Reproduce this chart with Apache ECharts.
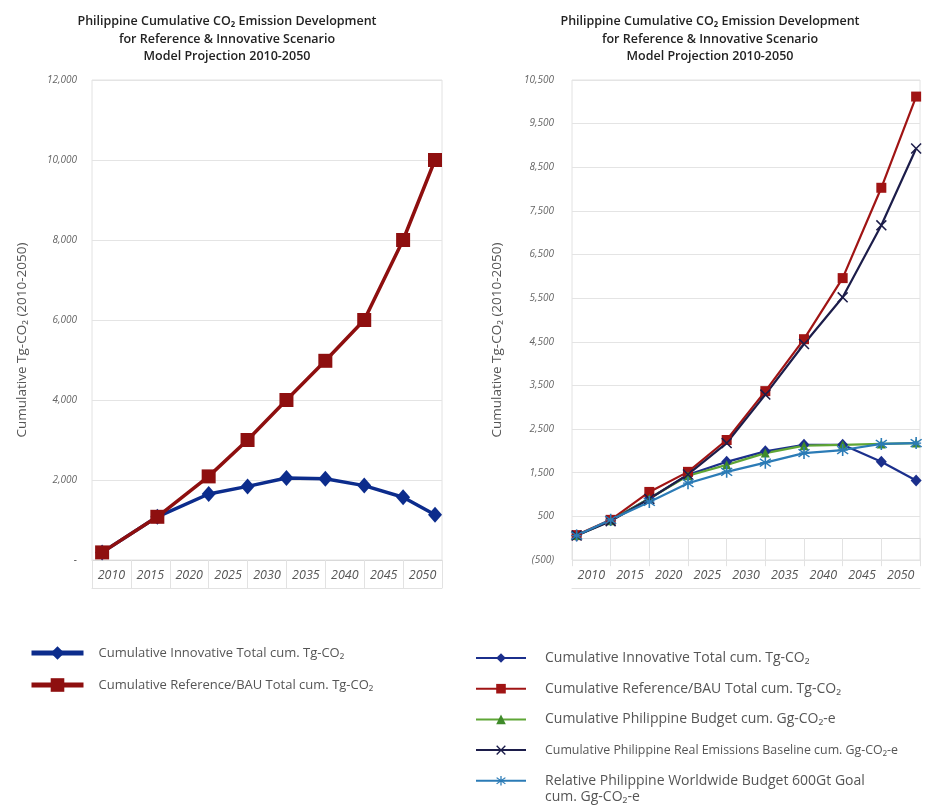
<!DOCTYPE html>
<html>
<head>
<meta charset="utf-8">
<script src="https://cdn.jsdelivr.net/npm/echarts@6/dist/echarts.min.js"></script>
<style>
  html, body { margin: 0; padding: 0; background: #fff; }
  #wrap { position: relative; width: 928px; height: 809px; }
  #left, #right { position: absolute; top: 0; width: 464px; height: 809px; }
  #left { left: 0; }
  #right { left: 464px; }
</style>
</head>
<body>
<div id="wrap"><div id="left"></div><div id="right"></div></div>
<script>
// Year labels shown in the table under each plot
const yearLabels = ['2010', '2015', '2020', '2025', '2030', '2035', '2040', '2045', '2050'];

// Left chart: model projection (cumulative Tg-CO2)
const yearsLeft = [2008.8, 2015.9, 2022.5, 2027.5, 2032.5, 2037.5, 2042.5, 2047.5, 2051.6];
const innovativeLeft = [190, 1080, 1650, 1840, 2050, 2030, 1860, 1570, 1130];
const referenceLeft = [190, 1080, 2090, 3000, 4000, 4980, 6000, 8000, 10000];

// Right chart: projection compared with budgets and baseline
const yearsRight = [2008.1, 2012.5, 2017.5, 2022.5, 2027.5, 2032.5, 2037.5, 2042.5, 2047.5, 2052.0];
const innovativeRight = [60, 410, 910, 1450, 1750, 1990, 2140, 2140, 1750, 1320];
const referenceRight = [70, 420, 1060, 1520, 2250, 3370, 4560, 5960, 8030, 10120];
const budgetRight = [60, 400, 910, 1430, 1680, 1950, 2120, 2140, 2160, 2180];
const baselineRight = [60, 390, 900, 1460, 2180, 3290, 4450, 5520, 7170, 8930];
const worldBudgetRight = [60, 420, 830, 1260, 1520, 1730, 1950, 2020, 2160, 2180];

const NAME_INNOV = 'Cumulative Innovative Total cum. Tg-CO\u2082';
const NAME_REF = 'Cumulative Reference/BAU Total cum. Tg-CO\u2082';
const NAME_BUDGET = 'Cumulative Philippine Budget cum. Gg-CO\u2082-e';
const NAME_BASE = 'Cumulative Philippine Real Emissions Baseline cum. Gg-CO\u2082-e';
const NAME_WORLD = 'Relative Philippine Worldwide Budget 600Gt Goal cum. Gg-CO\u2082-e';

const TITLE = 'Philippine Cumulative CO\u2082 Emission Development\nfor Reference & Innovative Scenario\nModel Projection 2010-2050';
const AXIS_NAME = 'Cumulative Tg-CO\u2082 (2010-2050)';
const FONT = '"Open Sans", "Noto Sans", sans-serif';

function pairs(xs, ys) { return xs.map((x, i) => [x, ys[i]]); }

function fmtValue(v) {
  if (v === 0) return '-';
  const s = Math.abs(v).toLocaleString('en-US');
  return v < 0 ? '(' + s + ')' : s;
}

// Marker outlines built from thin bars (cross and asterisk)
function barPoly(angleDeg, halfLen, halfW) {
  const a = angleDeg * Math.PI / 180, c = Math.cos(a), s = Math.sin(a);
  const pts = [[-halfLen, -halfW], [halfLen, -halfW], [halfLen, halfW], [-halfLen, halfW]]
    .map(p => [(p[0] * c - p[1] * s).toFixed(2), (p[0] * s + p[1] * c).toFixed(2)]);
  return 'M' + pts.map(p => p.join(',')).join('L') + 'Z';
}
const crossSymbol = 'path://' + barPoly(45, 10, 1.1) + barPoly(-45, 10, 1.1);
const starSymbol = 'path://' + barPoly(90, 10, 1.1) + barPoly(40, 10, 1.1) + barPoly(-40, 10, 1.1) + barPoly(0, 7, 1.1);

function xAxes() {
  return [
    {
      type: 'category', data: yearLabels, boundaryGap: true, position: 'bottom',
      axisLine: { show: true, lineStyle: { color: '#d9d9d9', width: 1 } },
      axisTick: { show: true, interval: 0, length: 28, lineStyle: { color: '#e2e2e2' } },
      axisLabel: { interval: 0, margin: 9, color: '#555', fontSize: 12.5, fontStyle: 'italic', fontFamily: FONT },
      splitLine: { show: false }
    },
    {
      type: 'value', min: 2007.5, max: 2052.5, show: false
    },
    {
      type: 'category', data: yearLabels, position: 'bottom', offset: 28,
      axisLine: { show: true, lineStyle: { color: '#e2e2e2', width: 1 } },
      axisTick: { show: false }, axisLabel: { show: false }
    }
  ];
}

function yAxis(min, max, interval, margin, nameGap) {
  return {
    type: 'value', min: min, max: max, interval: interval,
    name: AXIS_NAME, nameLocation: 'middle', nameGap: nameGap,
    nameTextStyle: { color: '#555', fontSize: 13.5, fontFamily: FONT, padding: [0, 40, 0, 0] },
    axisLine: { show: false }, axisTick: { show: false },
    axisLabel: { color: '#666', fontSize: 10, fontStyle: 'italic', fontFamily: FONT, margin: margin, formatter: fmtValue },
    splitLine: { show: true, lineStyle: { color: '#e4e4e4', width: 1.2 } }
  };
}

function title(centerX) {
  return {
    text: TITLE, left: centerX, top: 8, textAlign: 'center',
    textStyle: { fontFamily: FONT, fontSize: 12.5, fontWeight: 600, color: '#222', lineHeight: 17.5 }
  };
}

// ---------- Left chart ----------
const leftChart = echarts.init(document.getElementById('left'), null, { renderer: 'canvas' });
leftChart.setOption({
  animation: false,
  backgroundColor: '#fff',
  title: title(222),
  grid: { left: 92, right: 22, top: 80, bottom: 249, show: true, borderColor: '#e2e2e2', borderWidth: 1 },
  xAxis: xAxes(),
  yAxis: yAxis(0, 12000, 2000, 15, 63),
  legend: {
    orient: 'vertical', left: 24, top: 639,
    itemWidth: 52, itemHeight: 17, itemGap: 14,
    lineStyle: { width: 5 },
    textStyle: { color: '#555', fontSize: 13, fontFamily: FONT, lineHeight: 18, padding: [0, 0, 0, 10] },
    data: [NAME_INNOV, NAME_REF]
  },
  series: [
    {
      name: NAME_INNOV, type: 'line', xAxisIndex: 1, data: pairs(yearsLeft, innovativeLeft),
      symbol: 'diamond', symbolSize: [14, 16],
      lineStyle: { color: '#0c2c8c', width: 3.5 }, itemStyle: { color: '#0c2c8c' }
    },
    {
      name: NAME_REF, type: 'line', xAxisIndex: 1, data: pairs(yearsLeft, referenceLeft),
      symbol: 'rect', symbolSize: 14,
      lineStyle: { color: '#8e0f0f', width: 3.5 }, itemStyle: { color: '#8e0f0f' }
    }
  ]
});

// ---------- Right chart ----------
const rightChart = echarts.init(document.getElementById('right'), null, { renderer: 'canvas' });
rightChart.setOption({
  animation: false,
  backgroundColor: '#fff',
  title: title(241),
  grid: { left: 108, right: 8, top: 80, bottom: 249, show: true, borderColor: '#e2e2e2', borderWidth: 1 },
  xAxis: xAxes(),
  yAxis: yAxis(-500, 10500, 1000, 18, 68),
  legend: {
    orient: 'vertical', left: 6, top: 644,
    itemWidth: 50, itemHeight: 12, itemGap: 12.7,
    lineStyle: { width: 2 },
    textStyle: {
      color: '#555', fontSize: 14, fontFamily: FONT, lineHeight: 18, padding: [0, 0, 0, 14],
      rich: { s: { fontSize: 12.4, color: '#555', fontFamily: FONT } }
    },
    formatter: function (name) {
      if (name === NAME_BASE) return '{s|' + name + '}';
      if (name === NAME_WORLD) return 'Relative Philippine Worldwide Budget 600Gt Goal';
      return name;
    },
    data: [NAME_INNOV, NAME_REF, NAME_BUDGET, NAME_BASE, NAME_WORLD]
  },
  graphic: [{
    type: 'text', left: 81, top: 790,
    style: { text: 'cum. Gg-CO\u2082-e', fill: '#555', fontSize: 14, fontFamily: FONT }
  }],
  series: [
    {
      name: NAME_INNOV, type: 'line', xAxisIndex: 1, data: pairs(yearsRight, innovativeRight),
      symbol: 'diamond', symbolSize: [11, 12],
      lineStyle: { color: '#1b2f8c', width: 2.2 }, itemStyle: { color: '#1b2f8c' }
    },
    {
      name: NAME_REF, type: 'line', xAxisIndex: 1, data: pairs(yearsRight, referenceRight),
      symbol: 'rect', symbolSize: 10,
      lineStyle: { color: '#a01414', width: 2.2 }, itemStyle: { color: '#a01414' }
    },
    {
      name: NAME_BUDGET, type: 'line', xAxisIndex: 1, data: pairs(yearsRight, budgetRight),
      symbol: 'triangle', symbolSize: 9,
      lineStyle: { color: '#5fa636', width: 2.2 }, itemStyle: { color: '#3f8a2a' }
    },
    {
      name: NAME_BASE, type: 'line', xAxisIndex: 1, data: pairs(yearsRight, baselineRight),
      symbol: crossSymbol, symbolSize: 11,
      lineStyle: { color: '#1c1d4a', width: 2.2 }, itemStyle: { color: '#1c1d4a' }
    },
    {
      name: NAME_WORLD, type: 'line', xAxisIndex: 1, data: pairs(yearsRight, worldBudgetRight),
      symbol: starSymbol, symbolSize: 12,
      lineStyle: { color: '#2b7bb6', width: 2.2 }, itemStyle: { color: '#2b7bb6' }
    }
  ]
});
</script>
</body>
</html>
